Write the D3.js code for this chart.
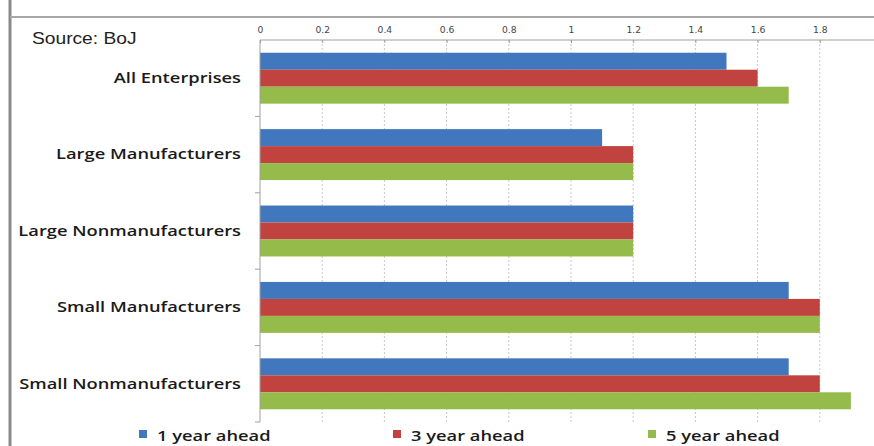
<!DOCTYPE html>
<html>
<head>
<meta charset="utf-8">
<script src="https://cdn.jsdelivr.net/npm/d3@7"></script>
<style>
  html, body { margin: 0; padding: 0; background: #fff; }
  svg { display: block; }
</style>
</head>
<body>
<svg id="chart" width="874" height="446"></svg>
<script>
// Inflation expectations of enterprises (Tankan), % per year
const categories = ["All Enterprises", "Large Manufacturers", "Large Nonmanufacturers", "Small Manufacturers", "Small Nonmanufacturers"];
const seriesNames = ["1 year ahead", "3 year ahead", "5 year ahead"];
const oneYear   = [1.5, 1.1, 1.2, 1.7, 1.7];
const threeYear = [1.6, 1.2, 1.2, 1.8, 1.8];
const fiveYear  = [1.7, 1.2, 1.2, 1.8, 1.9];
const tickValues = [0, 0.2, 0.4, 0.6, 0.8, 1, 1.2, 1.4, 1.6, 1.8];
const colors = ["#4077bd", "#c0433f", "#95bb4b"];

const seriesValues = [oneYear, threeYear, fiveYear];
const svg = d3.select("#chart");

// text in this chart is set in a horizontally widened face
function widen(sel, k) {
  sel.each(function () {
    const t = d3.select(this);
    const tx = +t.attr("x") || 0;
    const ty = +t.attr("y") || 0;
    t.attr("x", 0).attr("y", ty).attr("transform", `translate(${tx},0) scale(${k},1)`);
  });
}

// frame lines
svg.append("line").attr("x1", 10).attr("x2", 10).attr("y1", 0).attr("y2", 446)
  .attr("stroke", "#8a8a8a").attr("stroke-width", 3);
svg.append("line").attr("x1", 10).attr("x2", 874).attr("y1", 17).attr("y2", 17)
  .attr("stroke", "#a8a8a8").attr("stroke-width", 2);

svg.append("text").attr("x", 32).attr("y", 44)
  .attr("font-family", "Liberation Sans, Arial, sans-serif").attr("font-size", 16)
  .attr("fill", "#222").text("Source: BoJ")
  .call(widen, 1.2);

const plotLeft = 260, plotTop = 40, plotBottom = 422;
const x = d3.scaleLinear().domain([0, 2]).range([plotLeft, 882]);
const y = d3.scaleBand().domain(categories).range([plotTop, plotBottom]).paddingInner(1/3).paddingOuter(1/6);
const ySub = d3.scaleBand().domain(seriesNames).range([0, y.bandwidth()]);

// dotted gridlines
svg.append("g").selectAll("line").data(tickValues.filter(d => d > 0)).join("line")
  .attr("x1", d => x(d)).attr("x2", d => x(d))
  .attr("y1", plotTop).attr("y2", plotBottom)
  .attr("stroke", "#c8c8c8").attr("stroke-width", 1).attr("stroke-dasharray", "2,2");

// bars
const groups = svg.append("g").selectAll("g").data(categories).join("g")
  .attr("transform", c => `translate(0,${y(c)})`);
groups.selectAll("rect").data((c, i) => seriesNames.map((s, j) => ({ s, j, v: seriesValues[j][i] })))
  .join("rect")
  .attr("x", x(0))
  .attr("y", d => ySub(d.s))
  .attr("width", d => x(d.v) - x(0))
  .attr("height", ySub.bandwidth())
  .attr("fill", d => colors[d.j]);

// top value axis
const xAxis = svg.append("g").attr("transform", `translate(0,${plotTop})`)
  .call(d3.axisTop(x).tickValues(tickValues).tickSize(3).tickSizeOuter(0).tickFormat(d3.format("~g")));
xAxis.select(".domain").attr("stroke", "#a0a0a0").attr("d", `M${plotLeft},0H874`);
xAxis.selectAll(".tick line").attr("stroke", "#a0a0a0").attr("y2", 3);
xAxis.selectAll(".tick text").attr("font-family", "DejaVu Sans, sans-serif").attr("font-size", 8)
  .attr("fill", "#444").attr("y", -7)
  .call(widen, 1.15);

// category axis
const yAxis = svg.append("g").attr("transform", `translate(${plotLeft},0)`)
  .call(d3.axisLeft(y).tickSize(0).tickPadding(19));
yAxis.select(".domain").attr("stroke", "#a0a0a0").attr("d", `M0,${plotTop}V${plotBottom}`);
yAxis.selectAll(".tick text").attr("font-family", "Open Sans, sans-serif").attr("font-size", 15)
  .attr("font-weight", 600).attr("fill", "#1a1a1a")
  .call(widen, 1.22);
// boundary ticks between categories
const bounds = d3.range(1, categories.length + 1).map(i => plotTop + i * y.step());
yAxis.append("g").selectAll("line").data(bounds).join("line")
  .attr("x1", -5).attr("x2", 0)
  .attr("y1", d => d).attr("y2", d => d)
  .attr("stroke", "#a0a0a0");

// legend
const legendX = [139, 393, 648];
const legend = svg.append("g").selectAll("g").data(seriesNames).join("g")
  .attr("transform", (d, i) => `translate(${legendX[i]},430)`);
legend.append("rect").attr("width", 8).attr("height", 8).attr("fill", (d, i) => colors[i]);
legend.append("text").attr("x", 18).attr("y", 10.5)
  .attr("font-family", "Open Sans, sans-serif").attr("font-size", 15).attr("font-weight", 600)
  .attr("fill", "#1a1a1a").text(d => d)
  .call(widen, 1.22);
</script>
</body>
</html>
